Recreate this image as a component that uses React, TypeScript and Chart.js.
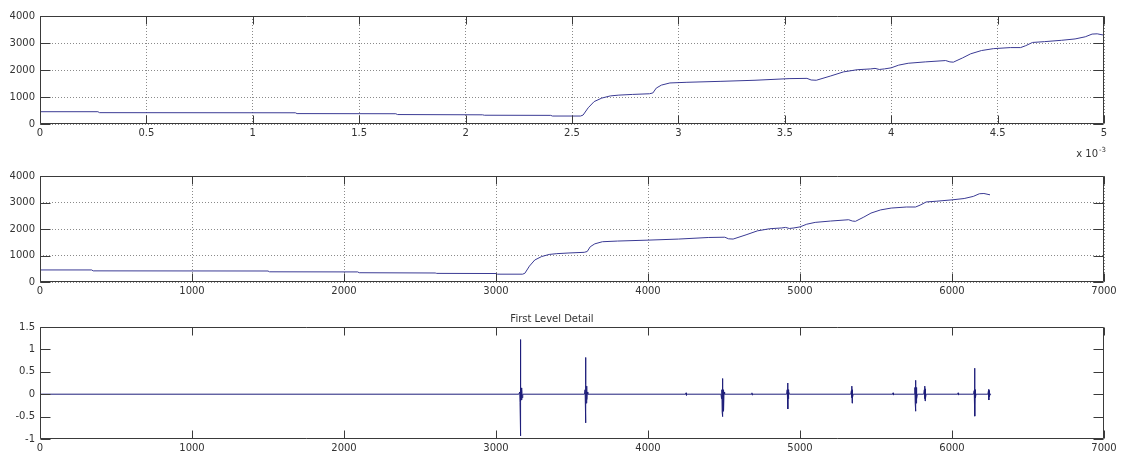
import React, { useEffect, useRef } from 'react';
import { Chart, registerables } from 'chart.js';

Chart.register(...registerables);

// ---------- data ----------
// Signal: sample index -> amplitude
const sampleIdx = [
  0, 340, 350, 1500, 1510, 2090, 2100, 2600, 2610, 3000, 3010, 3175,
  3190, 3220, 3255, 3300, 3350, 3400, 3480, 3580, 3600, 3620, 3650, 3700,
  3800, 4000, 4200, 4400, 4505, 4530, 4560, 4645, 4720, 4800, 4880, 4905,
  4930, 4960, 5000, 5044, 5100, 5200, 5320, 5345, 5365, 5420, 5467, 5530,
  5600, 5700, 5760, 5790, 5830, 5900, 6000, 6080, 6140, 6180, 6210, 6250,
];
const amplitude = [
  455, 455, 420, 415, 385, 380, 350, 340, 325, 320, 295, 295,
  330, 600, 830, 960, 1040, 1070, 1095, 1120, 1150, 1330, 1440, 1520,
  1545, 1580, 1620, 1680, 1690, 1630, 1620, 1780, 1930, 2010, 2040, 2060,
  2020, 2040, 2080, 2180, 2250, 2300, 2350, 2300, 2290, 2450, 2600, 2720,
  2790, 2830, 2830, 2900, 3020, 3050, 3100, 3150, 3230, 3330, 3340, 3290,
];
// 6250 samples span 5 x 10^-3 s
const SAMPLE_PERIOD_MS = 5 / 6250;

// First level detail coefficients: sample index -> value
const detailIdx = [
  0,
  3150, 3156, 3158, 3160, 3161, 3162, 3164, 3166, 3168, 3170, 3172, 3176,
  3582, 3586, 3588, 3590, 3591, 3592, 3594, 3596, 3598, 3600, 3604,
  4248, 4250, 4252, 4254,
  4480, 4484, 4486, 4488, 4490, 4491, 4492, 4494, 4496, 4498, 4500, 4504,
  4682, 4684, 4686, 4688,
  4912, 4916, 4918, 4920, 4921, 4922, 4924, 4926, 4930,
  5334, 5338, 5340, 5342, 5343, 5344, 5346, 5350,
  5610, 5612, 5614, 5616,
  5752, 5756, 5758, 5760, 5761, 5762, 5764, 5766, 5768, 5772,
  5814, 5818, 5820, 5822, 5823, 5824, 5826, 5830,
  6038, 6040, 6042, 6044,
  6142, 6146, 6148, 6150, 6151, 6152, 6154, 6158,
  6236, 6240, 6241, 6242, 6243, 6244, 6246, 6250, 6257,
];
const detailVal = [
  0,
  0, 0.05, -0.18, 1.22, -0.93, 0.16, -0.15, 0.14, -0.13, 0.1, -0.08, 0,
  0, 0.1, -0.2, 0.82, -0.64, 0.22, -0.2, 0.18, -0.12, 0.05, 0,
  0, 0.03, -0.03, 0,
  0, -0.1, 0.1, -0.4, 0.35, -0.5, 0.08, -0.38, 0.1, -0.35, 0.05, 0,
  0, 0.03, -0.02, 0,
  0, 0.1, -0.1, 0.25, -0.33, 0.1, -0.1, 0.06, 0,
  0, 0.08, -0.08, 0.18, -0.2, 0.1, -0.08, 0,
  0, 0.03, -0.02, 0,
  0, 0.15, -0.2, 0.31, -0.38, 0.2, -0.2, 0.15, -0.1, 0,
  0, 0.1, -0.1, 0.18, -0.15, 0.12, -0.1, 0,
  0, 0.03, -0.02, 0,
  0, 0.08, -0.1, 0.58, -0.49, 0.1, -0.08, 0,
  0, 0.08, -0.1, 0.11, -0.13, 0.08, -0.06, 0, 0,
];

// Tick values
const timeTicks = [0, 0.5, 1, 1.5, 2, 2.5, 3, 3.5, 4, 4.5, 5];
const sampleTicks = [0, 1000, 2000, 3000, 4000, 5000, 6000, 7000];
const ampTicks = [0, 1000, 2000, 3000, 4000];
const detailTicks = [-1, -0.5, 0, 0.5, 1, 1.5];
const detailTitle = 'First Level Detail';

// ---------- styles ----------
const FONT = '"DejaVu Sans", sans-serif';
const TEXT = '#333333';
const FRAME = '#3a3a3a';
const GRID = '#8a8a8a';
const TRACE = '#3a3a94';
const DETAIL = '#1e1e7a';

const fmt = (v: number) => String(Math.round(v * 100) / 100);

const framePlugin = {
  id: 'matlabFrame',
  afterDraw(chart: any) {
    const { ctx, chartArea: a, scales } = chart;
    const l = Math.round(a.left) + 0.5;
    const r = Math.round(a.right) - 0.5;
    const t = Math.round(a.top) + 0.5;
    const b = Math.round(a.bottom) - 0.5;
    ctx.save();
    ctx.strokeStyle = FRAME;
    ctx.lineWidth = 1;
    ctx.setLineDash([]);
    ctx.beginPath();
    ctx.rect(l, t, r - l, b - t);
    const xs = scales.x;
    xs.ticks.forEach((tk: any) => {
      const px = Math.round(xs.getPixelForValue(tk.value)) + 0.5;
      ctx.moveTo(px, t);
      ctx.lineTo(px, t + 8);
      ctx.moveTo(px, b);
      ctx.lineTo(px, b - 8);
    });
    const ys = scales.y;
    ys.ticks.forEach((tk: any) => {
      const py = Math.round(ys.getPixelForValue(tk.value)) + 0.5;
      ctx.moveTo(l, py);
      ctx.lineTo(l + 10, py);
      ctx.moveTo(r, py);
      ctx.lineTo(r - 10, py);
    });
    ctx.stroke();
    ctx.restore();
  },
};

const exponentPlugin = {
  id: 'exponentLabel',
  afterDraw(chart: any) {
    const { ctx, chartArea } = chart;
    ctx.save();
    ctx.fillStyle = TEXT;
    ctx.font = `10px ${FONT}`;
    ctx.textAlign = 'right';
    ctx.textBaseline = 'alphabetic';
    ctx.fillText('x 10', chartArea.right - 6, chartArea.bottom + 33);
    ctx.font = `7px ${FONT}`;
    ctx.textAlign = 'left';
    ctx.fillText('-3', chartArea.right - 5, chartArea.bottom + 28);
    ctx.restore();
  },
};

type Cfg = {
  points: { x: number; y: number }[];
  color: string;
  xTicks: number[];
  yTicks: number[];
  grid: boolean;
  padTop: number;
  xAxisHeight: number;
  title?: string;
  exponent?: boolean;
};

function makeConfig(c: Cfg): any {
  const axis = (ticks: number[], isX: boolean) => ({
    type: 'linear',
    min: ticks[0],
    max: ticks[ticks.length - 1],
    afterBuildTicks: (s: any) => {
      s.ticks = ticks.map((v) => ({ value: v }));
    },
    afterFit: (s: any) => {
      if (isX) s.height = c.xAxisHeight;
      else s.width = 40;
    },
    grid: { display: c.grid, color: GRID, lineWidth: 1, drawTicks: false },
    border: { display: false, dash: [1, 2] },
    ticks: {
      autoSkip: false,
      maxRotation: 0,
      padding: isX ? 3 : 5,
      color: TEXT,
      font: { family: FONT, size: 10 },
      callback: (v: number) => fmt(v),
    },
  });
  return {
    type: 'line',
    data: {
      datasets: [
        {
          data: c.points,
          borderColor: c.color,
          borderWidth: 1,
          pointRadius: 0,
          tension: 0,
          fill: false,
        },
      ],
    },
    options: {
      responsive: false,
      animation: false,
      devicePixelRatio: 1,
      layout: { padding: { top: c.padTop, right: 17, left: 0, bottom: 0 } },
      scales: { x: axis(c.xTicks, true), y: axis(c.yTicks, false) },
      plugins: {
        legend: { display: false },
        tooltip: { enabled: false },
        title: c.title
          ? {
              display: true,
              text: c.title,
              color: TEXT,
              font: { family: FONT, size: 10, weight: 'normal' },
              padding: { top: 8, bottom: 2 },
            }
          : { display: false },
      },
    },
    plugins: c.exponent ? [framePlugin, exponentPlugin] : [framePlugin],
  };
}

function ChartCanvas({ cfg, top, height }: { cfg: Cfg; top: number; height: number }) {
  const ref = useRef<HTMLCanvasElement | null>(null);
  useEffect(() => {
    if (!ref.current) return;
    const chart = new Chart(ref.current, makeConfig(cfg));
    return () => chart.destroy();
  }, []);
  return (
    <canvas
      ref={ref}
      width={1121}
      height={height}
      style={{ position: 'absolute', left: 0, top, width: 1121, height }}
    />
  );
}

export default function App() {
  const timePoints = sampleIdx.map((s, i) => ({ x: s * SAMPLE_PERIOD_MS, y: amplitude[i] }));
  const samplePoints = sampleIdx.map((s, i) => ({ x: s, y: amplitude[i] }));
  const detailPoints = detailIdx.map((s, i) => ({ x: s, y: detailVal[i] }));

  return (
    <div
      style={{
        position: 'fixed',
        left: 0,
        top: 0,
        width: 1121,
        height: 452,
        background: '#ffffff',
        overflow: 'hidden',
      }}
    >
      <ChartCanvas
        top={0}
        height={165}
        cfg={{
          points: timePoints,
          color: TRACE,
          xTicks: timeTicks,
          yTicks: ampTicks,
          grid: true,
          padTop: 16,
          xAxisHeight: 41,
          exponent: true,
        }}
      />
      <ChartCanvas
        top={165}
        height={140}
        cfg={{
          points: samplePoints,
          color: TRACE,
          xTicks: sampleTicks,
          yTicks: ampTicks,
          grid: true,
          padTop: 8,
          xAxisHeight: 23,
        }}
      />
      <ChartCanvas
        top={305}
        height={147}
        cfg={{
          points: detailPoints,
          color: DETAIL,
          xTicks: sampleTicks,
          yTicks: detailTicks,
          grid: false,
          padTop: 0,
          xAxisHeight: 13,
          title: detailTitle,
        }}
      />
    </div>
  );
}
